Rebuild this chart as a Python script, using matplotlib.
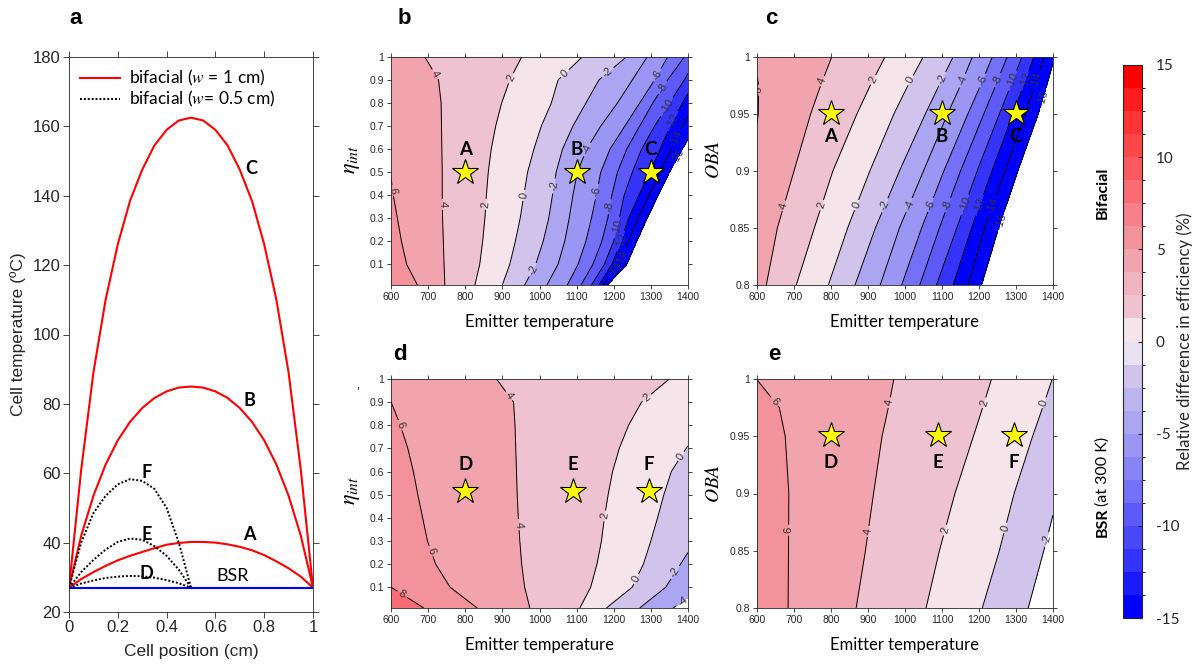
import numpy as np
import matplotlib
matplotlib.use("Agg")
import matplotlib.pyplot as plt
from matplotlib.colors import ListedColormap, BoundaryNorm
from matplotlib.cm import ScalarMappable

plt.rcParams["mathtext.fontset"] = "stix"
plt.rcParams["axes.unicode_minus"] = False
plt.rcParams["contour.negative_linestyle"] = "solid"

# ---- panel a: cell temperature profiles ----
POS_FULL = [0.0, 0.05, 0.1, 0.15, 0.2, 0.25, 0.3, 0.35, 0.4, 0.45, 0.5,
            0.55, 0.6, 0.65, 0.7, 0.75, 0.8, 0.85, 0.9, 0.95, 1.0]
T_A = [27, 29.5, 31.5, 33.3, 34.9, 36.2, 37.3, 38.4, 39.4, 39.9, 40.2,
       40.2, 40.0, 39.5, 38.8, 37.8, 36.4, 34.6, 32.6, 30.2, 27]
T_B = [27, 42, 53.5, 62.5, 69.5, 74.8, 78.8, 81.7, 83.6, 84.7, 85,
       84.7, 83.6, 81.7, 78.8, 74.8, 69.5, 62.5, 53.5, 42, 27]
T_C = [27, 61, 89, 110, 126, 138.5, 147.5, 154.5, 159, 161.7, 162.5,
       161.7, 159, 154.5, 147.5, 138.5, 126, 110, 89, 61, 27]
POS_HALF = [0.0, 0.05, 0.1, 0.15, 0.2, 0.25, 0.3, 0.35, 0.4, 0.45, 0.5]
T_D = [27, 28.2, 29.1, 29.8, 30.2, 30.4, 30.3, 29.9, 29.2, 28.3, 27]
T_E = [27, 31.5, 35, 38, 40.2, 41.2, 40.8, 39.0, 36.2, 32.2, 27]
T_F = [27, 40, 48.5, 53.5, 56.8, 58.3, 57.8, 55.5, 50, 40, 27]
T_BSR = 27

# ---- contour maps: temperature where each level crosses, per row ----
B_ROWS = [0.01, 0.1, 0.2, 0.3, 0.4, 0.5, 0.6, 0.7, 0.8, 0.9, 1.0]
B_LEVELS = [8, 6, 4, 2, 0, -2, -4, -6, -8, -10, -12, -14, -16, -18]
B_CROSS = [
    [612, 575, 555, 545, 535, 525, 515, 505, 495, 485, 475],
    [671, 642, 628, 617, 606, 598, 592, 586, 580, 572, 562],
    [745, 743, 741, 739, 738, 738, 737, 736, 735, 728, 691],
    [826, 839, 847, 853, 857, 862, 870, 882, 898, 920, 952],
    [900, 920, 935, 948, 958, 968, 985, 1005, 1032, 1050, 1115],
    [960, 990, 1010, 1025, 1035, 1045, 1062, 1090, 1125, 1160, 1234],
    [1020, 1050, 1068, 1080, 1090, 1102, 1127, 1165, 1210, 1250, 1290],
    [1075, 1104, 1125, 1140, 1153, 1165, 1190, 1230, 1270, 1310, 1345],
    [1112, 1144, 1168, 1184, 1195, 1210, 1235, 1270, 1305, 1345, 1390],
    [1140, 1175, 1200, 1215, 1228, 1250, 1275, 1310, 1350, 1390, 1425],
    [1160, 1195, 1220, 1240, 1268, 1298, 1325, 1352, 1385, 1420, 1460],
    [1172, 1215, 1240, 1265, 1295, 1325, 1355, 1385, 1420, 1455, 1495],
    [1183, 1235, 1262, 1290, 1320, 1350, 1385, 1420, 1455, 1490, 1530],
    [1200, 1260, 1290, 1320, 1350, 1380, 1415, 1450, 1485, 1520, 1560],
]
C_ROWS = [0.8, 0.85, 0.9, 0.95, 0.975, 1.0]
C_LEVELS = [8, 6, 4, 2, 0, -2, -4, -6, -8, -10, -12, -14, -16, -18]
C_CROSS = [
    [520, 530, 540, 550, 555, 560],
    [560, 570, 585, 603, 604, 592],
    [625, 655, 700, 745, 772, 802],
    [706, 755, 805, 870, 906, 946],
    [793, 845, 905, 970, 1008, 1049],
    [865, 920, 985, 1055, 1092, 1130],
    [933, 985, 1050, 1115, 1150, 1182],
    [991, 1045, 1105, 1170, 1204, 1236],
    [1040, 1093, 1150, 1213, 1245, 1276],
    [1085, 1140, 1195, 1255, 1286, 1316],
    [1130, 1180, 1235, 1292, 1320, 1348],
    [1171, 1215, 1270, 1325, 1351, 1376],
    [1207, 1253, 1305, 1360, 1383, 1405],
    [1247, 1293, 1345, 1400, 1423, 1445],
]
D_ROWS = [0.01, 0.1, 0.2, 0.3, 0.4, 0.5, 0.6, 0.7, 0.8, 0.9, 1.0]
D_LEVELS = [10, 8, 6, 4, 2, 0, -2, -4, -6]
D_CROSS = [
    [560, 520, 510, 500, 490, 480, 470, 460, 450, 440, 430],
    [688, 600, 580, 570, 560, 550, 540, 530, 520, 510, 500],
    [832, 759, 720, 698, 685, 672, 660, 645, 625, 600, 570],
    [974, 960, 952, 947, 943, 940, 938, 936, 934, 930, 884],
    [1109, 1138, 1155, 1167, 1175, 1185, 1197, 1215, 1240, 1275, 1350],
    [1180, 1250, 1280, 1300, 1318, 1335, 1355, 1395, 1440, 1490, 1550],
    [1270, 1340, 1380, 1420, 1460, 1500, 1540, 1580, 1620, 1660, 1700],
    [1360, 1440, 1480, 1520, 1560, 1600, 1640, 1680, 1720, 1760, 1800],
    [1460, 1540, 1580, 1620, 1660, 1700, 1740, 1780, 1820, 1860, 1900],
]
E_ROWS = [0.8, 0.85, 0.9, 0.95, 0.975, 1.0]
E_LEVELS = [8, 6, 4, 2, 0, -2, -4]
E_CROSS = [
    [520, 530, 540, 550, 530, 500],
    [684, 685, 686, 676, 660, 598],
    [868, 893, 915, 938, 955, 970],
    [1057, 1093, 1135, 1185, 1210, 1234],
    [1209, 1255, 1295, 1345, 1372, 1398],
    [1333, 1375, 1415, 1460, 1485, 1510],
    [1453, 1495, 1535, 1580, 1605, 1630],
]

# contour label spots (temperature, y)
B_LABELS = [(604, 0.42), (723, 0.93), (736, 0.36), (920, 0.91), (856, 0.36),
            (1068, 0.93), (956, 0.40), (1180, 0.94), (1037, 0.44), (1126, 0.60),
            (1001, 0.06), (1319, 0.92), (1158, 0.415), (1328, 0.87), (1189, 0.35),
            (1346, 0.78), (1207, 0.26), (1362, 0.72), (1221, 0.20), (1375, 0.64),
            (1225, 0.125), (1381, 0.56), (1207, 0.07)]
C_LABELS = [(603, 0.971), (775, 0.979), (919, 0.979), (1018, 0.979), (1112, 0.979),
            (1157, 0.979), (1211, 0.979), (1256, 0.979), (1292, 0.979), (1328, 0.979),
            (1360, 0.979), (1378, 0.963), (667, 0.87), (775, 0.87), (870, 0.87),
            (946, 0.87), (1013, 0.87), (1072, 0.87), (1117, 0.87), (1166, 0.87),
            (1202, 0.87), (1234, 0.87), (1261, 0.856)]
D_LABELS = [(624, 0.055), (624, 0.80), (705, 0.255), (929, 0.94), (942, 0.37),
            (1288, 0.92), (1171, 0.41), (1382, 0.665), (1261, 0.135), (1369, 0.16),
            (1385, 0.04)]
E_LABELS = [(645, 0.98), (685, 0.868), (962, 0.979), (897, 0.867), (1216, 0.979),
            (1108, 0.868), (1378, 0.979), (1270, 0.87), (1382, 0.86)]

# operating points
STAR_T_TOP = [800, 1100, 1300]
STAR_T_BOT = [800, 1090, 1295]
STAR_NAMES_TOP = ["A", "B", "C"]
STAR_NAMES_BOT = ["D", "E", "F"]
STAR_ETA_B, STAR_OBA_C = 0.5, 0.951
STAR_ETA_D, STAR_OBA_E = 0.515, 0.951

CBAR_TICKS = [-15, -10, -5, 0, 5, 10, 15]

# 24-step diverging palette, bottom (-15) to top (+15)
BAND_COLORS = ["#0000ff", "#1a1aff", "#3434fe", "#4a48fc", "#5e5afa", "#7470f8",
               "#8884f6", "#9b96f4", "#aca6f2", "#bdb5f0", "#d0c4ec", "#e8e2f2",
               "#f5e4ea", "#eec2d0", "#f0b4c0", "#f2a4ae", "#f4929c", "#f7808a",
               "#fa6c74", "#fc5a60", "#fe4848", "#ff3434", "#ff1c1c", "#ff0000"]

SANS = "Liberation Sans"
CAL = "Lato"
DARK = "#262626"


def band_color(lo):
    i = int(np.floor((lo + 15) / 1.25))
    return BAND_COLORS[min(max(i, 0), 23)]


def build_field(levels, rows, cross, xs, ys):
    cross = np.asarray(cross, float)
    z = np.empty((len(ys), len(xs)))
    for i, y in enumerate(ys):
        c = np.array([np.interp(y, rows, row) for row in cross])
        z[i] = np.interp(xs, c, levels)
    return z


def style_axes(ax, size):
    ax.tick_params(direction="out", top=True, right=True, length=3, width=0.6,
                   labelsize=size, colors=DARK, pad=2)
    for s in ax.spines.values():
        s.set_linewidth(0.6)
        s.set_color(DARK)
    for t in ax.get_xticklabels() + ax.get_yticklabels():
        t.set_fontfamily(SANS)


def contour_panel(ax, levels, rows, cross, labels, ylim):
    xs = np.linspace(600, 1400, 401)
    ys = np.linspace(ylim[0], ylim[1], 301)
    z = build_field(levels, rows, cross, xs, ys)
    lo = min(levels) + 2
    fill_lv = np.arange(lo, max(levels) + 3, 2)
    ax.contourf(xs, ys, z, levels=fill_lv,
                colors=[band_color(v) for v in fill_lv[:-1]])
    line_lv = [v for v in levels[1:-1]]
    cs = ax.contour(xs, ys, z, levels=sorted(line_lv), colors="black",
                    linewidths=0.7)
    txt = ax.clabel(cs, fmt=lambda v: f"{v:g}", fontsize=8, inline=True,
                    inline_spacing=2, manual=labels, colors="#333333")
    for t in txt:
        t.set_fontfamily(SANS)
    ax.set_xlim(600, 1400)
    ax.set_ylim(*ylim)
    ax.set_xticks(range(600, 1401, 100))
    ax.set_xlabel("Emitter temperature", fontfamily=CAL, fontsize=12)
    ax.xaxis.set_label_coords(0.5, -0.125)


def stars(ax, ts, y, names, ylab):
    ax.plot(ts, [y] * len(ts), ls="none", marker="*", ms=19, mfc="#ffff00",
            mec="black", mew=0.8, zorder=6)
    for t, n in zip(ts, names):
        ax.text(t, ylab, n, ha="center", va="center", fontfamily=CAL,
                fontweight="bold", fontsize=13.5, zorder=7)


fig = plt.figure(figsize=(12.01, 6.68), dpi=100)
W, H = 1201, 668


def px_axes(x0, y0, x1, y1):
    return fig.add_axes([x0 / W, 1 - y1 / H, (x1 - x0) / W, (y1 - y0) / H])


# ---- a ----
ax = px_axes(69, 57, 313, 612)
ax.plot(POS_FULL, T_A, color="red", lw=1.5, label="bifacial ($w$ = 1 cm)")
ax.plot(POS_FULL, T_B, color="red", lw=1.5)
ax.plot(POS_FULL, T_C, color="red", lw=1.5)
ax.plot(POS_HALF, T_D, color="black", lw=1.4, ls=(0, (1, 1)),
        label="bifacial ($w$= 0.5 cm)")
ax.plot(POS_HALF, T_E, color="black", lw=1.4, ls=(0, (1, 1)))
ax.plot(POS_HALF, T_F, color="black", lw=1.4, ls=(0, (1, 1)))
ax.plot([0, 1], [T_BSR, T_BSR], color="#0000ff", lw=1.5)
for x, y, s in [(0.745, 148, "C"), (0.74, 81, "B"), (0.74, 42.3, "A"),
                (0.317, 60.3, "F"), (0.317, 42.4, "E"), (0.317, 31.1, "D")]:
    ax.text(x, y, s, ha="center", va="center", fontfamily=CAL,
            fontweight="bold", fontsize=13)
ax.text(0.672, 30.4, "BSR", ha="center", va="center", fontfamily=CAL, fontsize=13)
ax.set_xlim(0, 1)
ax.set_ylim(20, 180)
ax.set_xticks([0, 0.2, 0.4, 0.6, 0.8, 1])
ax.set_xticklabels(["0", "0.2", "0.4", "0.6", "0.8", "1"])
ax.set_yticks(range(20, 181, 20))
style_axes(ax, 12)
ax.tick_params(length=4)
ax.set_xlabel("Cell position (cm)", fontfamily=SANS, fontsize=12.5, color=DARK)
ax.set_ylabel("Cell temperature (ºC)", fontfamily=SANS, fontsize=12.5, color=DARK)
ax.xaxis.set_label_coords(0.5, -0.058)
ax.yaxis.set_label_coords(-0.175, 0.5)
leg = ax.legend(loc="upper left", frameon=False, handlelength=2.3,
                handletextpad=0.5, labelspacing=0.05, borderaxespad=0.25,
                prop={"family": CAL, "size": 12.5})

# ---- b ----
ax = px_axes(391, 57, 688, 285)
contour_panel(ax, B_LEVELS, B_ROWS, B_CROSS, B_LABELS, (0.01, 1))
stars(ax, STAR_T_TOP, STAR_ETA_B, STAR_NAMES_TOP, 0.597)
ax.set_yticks([0.1 * k for k in range(1, 11)])
ax.set_yticklabels(["0.1", "0.2", "0.3", "0.4", "0.5", "0.6", "0.7", "0.8", "0.9", "1"])
style_axes(ax, 7.5)
ax.set_ylabel(r"$\eta_{int}$", fontsize=16)
ax.yaxis.set_label_coords(-0.098, 0.55)

# ---- c ----
ax = px_axes(757, 57, 1053, 285)
contour_panel(ax, C_LEVELS, C_ROWS, C_CROSS, C_LABELS, (0.8, 1))
stars(ax, STAR_T_TOP, STAR_OBA_C, STAR_NAMES_TOP, 0.930)
ax.set_yticks([0.8, 0.85, 0.9, 0.95, 1])
ax.set_yticklabels(["0.8", "0.85", "0.9", "0.95", "1"])
style_axes(ax, 7.5)
ax.set_ylabel(r"$OBA$", fontsize=14)
ax.yaxis.set_label_coords(-0.115, 0.55)

# ---- d ----
ax = px_axes(391, 379, 688, 608)
contour_panel(ax, D_LEVELS, D_ROWS, D_CROSS, D_LABELS, (0.01, 1))
stars(ax, STAR_T_BOT, STAR_ETA_D, STAR_NAMES_BOT, 0.629)
ax.set_yticks([0.1 * k for k in range(1, 11)])
ax.set_yticklabels(["0.1", "0.2", "0.3", "0.4", "0.5", "0.6", "0.7", "0.8", "0.9", "1"])
style_axes(ax, 7.5)
ax.set_ylabel(r"$\eta_{int}$", fontsize=16)
ax.yaxis.set_label_coords(-0.098, 0.515)
# stray prime of the eta' label, left above the tick labels
fig.text(358 / W, 1 - 392 / H, "'", ha="center", va="center",
         fontfamily="DejaVu Serif", fontsize=8, color=DARK)

# ---- e ----
ax = px_axes(757, 379, 1053, 608)
contour_panel(ax, E_LEVELS, E_ROWS, E_CROSS, E_LABELS, (0.8, 1))
stars(ax, STAR_T_BOT, STAR_OBA_E, STAR_NAMES_BOT, 0.927)
ax.set_yticks([0.8, 0.85, 0.9, 0.95, 1])
ax.set_yticklabels(["0.8", "0.85", "0.9", "0.95", "1"])
style_axes(ax, 7.5)
ax.set_ylabel(r"$OBA$", fontsize=14)
ax.yaxis.set_label_coords(-0.115, 0.545)

# panel letters
for x, y, s in [(76, 18, "a"), (404, 18, "b"), (771, 18, "c"),
                (400, 354, "d"), (774, 354, "e")]:
    fig.text(x / W, 1 - y / H, s, ha="center", va="center", fontfamily=SANS,
             fontweight="bold", fontsize=16)

# ---- colour bar ----
cax = px_axes(1123, 65, 1142, 618)
bounds = np.linspace(-15, 15, 25)
sm = ScalarMappable(norm=BoundaryNorm(bounds, 24), cmap=ListedColormap(BAND_COLORS))
cb = fig.colorbar(sm, cax=cax, ticks=CBAR_TICKS)
cb.outline.set_linewidth(0.8)
cb.outline.set_edgecolor(DARK)
cax.tick_params(direction="in", length=3, width=0.8, labelsize=11, pad=10,
                colors=DARK)
for t in cax.get_yticklabels():
    t.set_fontfamily(CAL)
cax.set_ylabel("Relative difference in efficiency (%)", fontfamily=CAL,
               fontsize=12, color=DARK)
cax.yaxis.set_label_coords(2.8, 0.5)

fig.text(1103 / W, 1 - 193 / H, "Bifacial", rotation=90, ha="center",
         va="center", fontfamily=CAL, fontweight="bold", fontsize=11.5)
fig.text(1103 / W, 1 - 537 / H, "BSR", rotation=90, ha="center", va="bottom",
         fontfamily=CAL, fontweight="bold", fontsize=11.5)
fig.text(1103 / W, 1 - 506 / H, "(at 300 K)", rotation=90, ha="center",
         va="bottom", fontfamily=CAL, fontsize=11.5)

fig.savefig("out.png", dpi=100)
